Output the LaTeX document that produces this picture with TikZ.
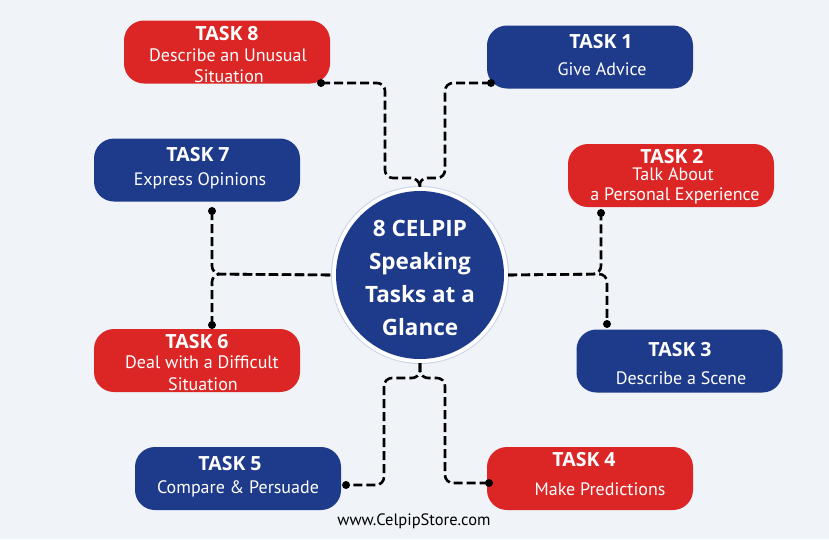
\documentclass[tikz,border=0pt]{standalone}
\usepackage{fontspec}
\setmainfont{Open Sans}
\newfontfamily\subfont{PT Sans}
\definecolor{tred}{HTML}{DC2626}
\definecolor{tblue}{HTML}{1E3A8A}
\definecolor{bg}{HTML}{F0F4F9}
\definecolor{ring}{HTML}{C9D3E6}
\tikzset{
  taskbox/.style={rectangle, rounded corners=20pt, minimum width=206pt, minimum height=63pt, inner sep=0pt},
  redbox/.style={taskbox, fill=tred},
  bluebox/.style={taskbox, fill=tblue},
  ttl/.style={text=white, font=\fontsize{19.5}{20}\selectfont\bfseries, inner sep=0pt, anchor=center},
  sub/.style={text=white, font=\subfont\fontsize{18}{18}\selectfont, inner sep=0pt, anchor=center},
  conn/.style={draw=black, line width=2.6pt, dash pattern=on 9pt off 4pt, rounded corners=8pt},
  dot/.style={fill=black}
}
\begin{document}
\begin{tikzpicture}[x=1pt,y=-1pt]
\fill[bg] (0,0) rectangle (829,539);
\useasboundingbox (0,0) rectangle (829,539);

% boxes
\node[redbox]  (b8) at (227,52)  {};
\node[bluebox] (b1) at (590,57)  {};
\node[bluebox] (b7) at (197,170) {};
\node[redbox]  (b2) at (671,175.5) {};
\node[redbox]  (b6) at (197,360.5) {};
\node[bluebox] (b3) at (679.5,361) {};
\node[bluebox] (b5) at (238,478.5) {};
\node[redbox]  (b4) at (590,478.5) {};

% hub
\node[circle, minimum size=178pt, fill=ring, inner sep=0pt] (hubring) at (420,275) {};
\node[circle, minimum size=176pt, fill=white, inner sep=0pt] (hubwhite) at (420,275) {};
\node[circle, minimum size=168pt, fill=tblue, inner sep=0pt] (hub) at (420,275) {};
\node[text=white, font=\fontsize{22.5}{33}\selectfont\bfseries, align=center, inner sep=0pt] (hubtxt) at (420,278)
  {8 CELPIP\\Speaking\\Tasks at a\\Glance};

% texts
\node[ttl] (t8) at (227,34) {TASK 8};
\node[sub] (s8a) at (228,55) {Describe an Unusual};
\node[sub] (s8b) at (229,76) {Situation};

\node[ttl] (t1) at (601,42) {TASK 1};
\node[sub] (s1) at (602,69) {Give Advice};

\node[ttl] (t7) at (198,155) {TASK 7};
\node[sub] (s7) at (200,181) {Express Opinions};

\node[ttl] (t2) at (672,157) {TASK 2};
\node[sub] (s2a) at (673,174) {Talk About};
\node[sub] (s2b) at (675,196) {a Personal Experience};

\node[ttl] (t6) at (197,342) {TASK 6};
\node[sub] (s6a) at (202,362) {Deal with a Difficult};
\node[sub] (s6b) at (203,384) {Situation};

\node[ttl] (t3) at (680,350) {TASK 3};
\node[sub] (s3) at (681,378) {Describe a Scene};

\node[ttl] (t5) at (230,464) {TASK 5};
\node[sub] (s5) at (238,489) {Compare \& Persuade};

\node[ttl] (t4) at (584,460) {TASK 4};
\node[sub] (s4) at (600,489) {Make Predictions};

\node[font=\subfont\fontsize{16.5}{17}\selectfont, text=black, inner sep=0pt] (web) at (414,521) {www.CelpipStore.com};

% connector points
\coordinate (d8) at (321,83);
\coordinate (d1) at (491,83);
\coordinate (d7) at (212,211);
\coordinate (d6) at (212,325);
\coordinate (d2) at (601,213);
\coordinate (d3) at (607,324);
\coordinate (d5) at (346,485);
\coordinate (d4) at (489,483);
\coordinate (jt) at (419,178);
\coordinate (jl) at (212,274);
\coordinate (jb) at (420,378);

% connectors
\draw[conn] (d8) -- (385,83) -- (385,178) -- (jt) -- (hubwhite.north);
\draw[conn] (d1) -- (445,83) -- (445,178) -- (jt) -- (hubwhite.north);
\draw[conn] (d7) -- (jl) -- (hubwhite.west);
\draw[conn] (d6) -- (jl) -- (hubwhite.west);
\draw[conn] (hubwhite.east) -- (601,274) -- (d2);
\draw[conn] (hubwhite.east) -- (607,274) -- (d3);
\draw[conn] (hubwhite.south) -- (jb) -- (384,378) -- (384,485) -- (d5);
\draw[conn] (hubwhite.south) -- (jb) -- (445,378) -- (445,483) -- (d4);

\foreach \d in {d8,d1,d7,d6,d2,d3,d5,d4} \fill[dot] (\d) circle (4pt);
\end{tikzpicture}
\end{document}
